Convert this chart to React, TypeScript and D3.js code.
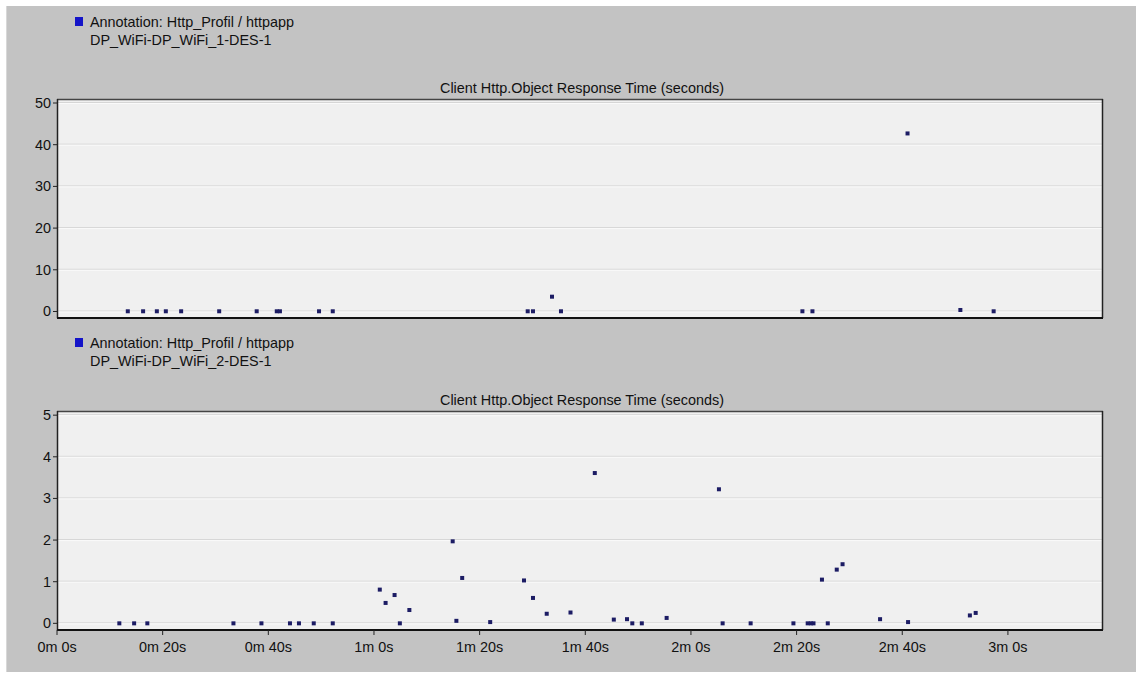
import * as d3 from 'd3'

// series 1: DP_WiFi-DP_WiFi_1-DES-1 (seconds since start, response time s)
const topTimes = [13.4, 16.3, 18.9, 20.6, 23.5, 30.7, 37.8, 41.6, 42.2, 49.6, 52.2, 89.1, 90.1, 93.7, 95.4, 141.1, 143.0, 161.0, 171.0, 177.3]
const topValues = [0.05, 0.05, 0.05, 0.05, 0.05, 0.05, 0.05, 0.05, 0.05, 0.05, 0.05, 0.05, 0.05, 3.55, 0.05, 0.05, 0.05, 42.7, 0.36, 0.05]

// series 2: DP_WiFi-DP_WiFi_2-DES-1
const bottomTimes = [11.8, 14.6, 17.1, 33.4, 38.7, 44.1, 45.8, 48.6, 52.2, 61.1, 62.2, 63.9, 64.9, 66.7, 74.9, 75.6, 76.7, 82.0, 88.4, 90.1, 92.7, 97.2, 101.8, 105.4, 107.9, 108.9, 110.7, 115.4, 125.3, 126.0, 131.3, 139.4, 142.1, 142.7, 143.2, 144.8, 145.9, 147.6, 148.7, 155.8, 161.1, 172.8, 173.9]
const bottomValues = [0.0, 0.0, 0.0, 0.0, 0.0, 0.0, 0.0, 0.0, 0.0, 0.81, 0.49, 0.68, 0.0, 0.32, 1.97, 0.06, 1.09, 0.03, 1.03, 0.61, 0.23, 0.26, 3.61, 0.09, 0.1, 0.0, 0.0, 0.13, 3.22, 0.0, 0.0, 0.0, 0.0, 0.0, 0.0, 1.05, 0.0, 1.29, 1.42, 0.1, 0.03, 0.19, 0.25]

const topTicks = [0, 10, 20, 30, 40, 50]
const bottomTicks = [0, 1, 2, 3, 4, 5]
const timeTicks = [0, 20, 40, 60, 80, 100, 120, 140, 160, 180]

const legendLine1 = 'Annotation: Http_Profil / httpapp'
const titleText = 'Client Http.Object Response Time (seconds)'

const font = '"Liberation Sans", Arial, sans-serif'
const fs = 14.4
const plotLeft = 57
const plotRight = 1103
const pointColor = '#1c1c64'

const fmtTime = (t: number) => `${Math.floor(t / 60)}m ${t % 60}s`

interface PanelProps {
  times: number[]
  values: number[]
  ticks: number[]
  domain: [number, number]
  top: number
  bottom: number
  legendY: number
  seriesName: string
  showTimeAxis: boolean
}

function Panel({ times, values, ticks, domain, top, bottom, legendY, seriesName, showTimeAxis }: PanelProps) {
  const x = d3.scaleLinear().domain([0, 198]).range([plotLeft, plotRight])
  const y = d3.scaleLinear().domain(domain).range([bottom, top])

  return (
    <g>
      {/* legend */}
      <rect x={75} y={legendY - 10} width={8} height={9} fill="#1414c8" />
      <text x={90} y={legendY} fontSize={fs} fontFamily={font} fill="#111">{legendLine1}</text>
      <text x={90} y={legendY + 18} fontSize={fs} fontFamily={font} fill="#111">{seriesName}</text>

      <text x={(plotLeft + plotRight) / 2 + 2} y={top - 6} textAnchor="middle" fontSize={fs} fontFamily={font} fill="#111">
        {titleText}
      </text>

      <rect x={plotLeft} y={top} width={plotRight - plotLeft} height={bottom - top} fill="#f0f0f0" />

      {ticks.map(t => (
        <g key={t}>
          <line x1={plotLeft} x2={plotRight} y1={y(t) - 0.5} y2={y(t) - 0.5} stroke="#d6d6d6" strokeWidth={1} />
          <line x1={plotLeft} x2={plotRight} y1={y(t) + 0.5} y2={y(t) + 0.5} stroke="#fafafa" strokeWidth={1} />
          <line x1={plotLeft - 4} x2={plotLeft} y1={y(t)} y2={y(t)} stroke="#222" strokeWidth={1} />
          <text x={plotLeft - 6} y={y(t) + 5} textAnchor="end" fontSize={fs} fontFamily={font} fill="#111">{t}</text>
        </g>
      ))}

      {/* frame */}
      <line x1={plotLeft} x2={plotRight} y1={top + 0.5} y2={top + 0.5} stroke="#444" strokeWidth={1.5} />
      <line x1={plotRight - 0.5} x2={plotRight - 0.5} y1={top} y2={bottom} stroke="#222" strokeWidth={1.5} />
      <line x1={plotLeft + 0.5} x2={plotLeft + 0.5} y1={top} y2={bottom} stroke="#222" strokeWidth={1.5} />
      <line x1={plotLeft} x2={plotRight} y1={bottom} y2={bottom} stroke="#111" strokeWidth={2} />

      {showTimeAxis && timeTicks.map(t => (
        <g key={t}>
          <line x1={x(t)} x2={x(t)} y1={bottom} y2={bottom + 5} stroke="#222" strokeWidth={1} />
          <text x={x(t)} y={bottom + 22} textAnchor="middle" fontSize={fs} fontFamily={font} fill="#111">{fmtTime(t)}</text>
        </g>
      ))}

      {times.map((t, i) => (
        <rect key={i} x={x(t) - 2} y={y(values[i]) - 2} width={4} height={4} fill={pointColor} />
      ))}
    </g>
  )
}

export default function App() {
  return (
    <div style={{ position: 'absolute', left: 0, top: 0 }}>
      <svg width={1136} height={675} style={{ display: 'block' }}>
        <rect x={0} y={0} width={1136} height={675} fill="#ffffff" />
        <rect x={6} y={6} width={1130} height={666} fill="#c3c3c3" />
        <line x1={6.5} x2={6.5} y1={6} y2={672} stroke="#d8d8d8" />
        <Panel
          times={topTimes}
          values={topValues}
          ticks={topTicks}
          domain={[-1.56, 50.96]}
          top={99}
          bottom={318}
          legendY={27}
          seriesName="DP_WiFi-DP_WiFi_1-DES-1"
          showTimeAxis={false}
        />
        <Panel
          times={bottomTimes}
          values={bottomValues}
          ticks={bottomTicks}
          domain={[-0.16, 5.1]}
          top={411}
          bottom={630}
          legendY={348}
          seriesName="DP_WiFi-DP_WiFi_2-DES-1"
          showTimeAxis={true}
        />
      </svg>
    </div>
  )
}
